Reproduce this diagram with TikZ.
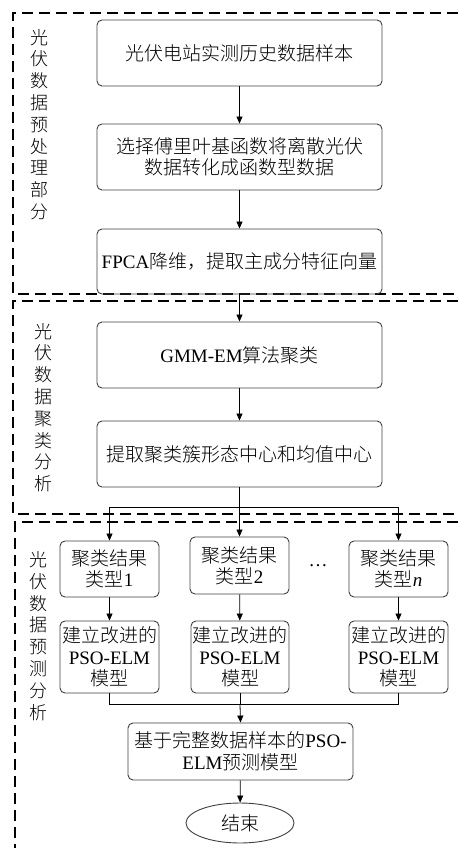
\documentclass[tikz,border=0pt]{standalone}
\usepackage{fontspec}
\setmainfont{Liberation Serif}
\newfontfamily\cjk[UprightFont={* Light}]{Noto Sans CJK SC}
\newcommand{\zh}[1]{{\cjk #1}}
\usetikzlibrary{arrows.meta,shapes.geometric}
\begin{document}
\begin{tikzpicture}[x=1pt,y=-1pt,
  box/.style={draw=black!75, line width=0.9pt, rounded corners=5pt, align=center,
    inner sep=0pt, font=\fontsize{19}{20.5}\selectfont},
  grp/.style={line width=1.3pt, dash pattern=on 11pt off 6pt},
  arr/.style={-{Triangle[length=7pt,width=6pt]}, line width=0.8pt},
  conn/.style={line width=0.8pt},
  lbl/.style={align=center, inner sep=0pt, font=\fontsize{18}{21.8}\selectfont\cjk}
]
\useasboundingbox (0,0) rectangle (458,848);

% group frames
\draw[grp] (458,13) -- (13,13) -- (13,294) -- (458,294);
\draw[grp] (458,301) -- (13,301) -- (13,514) -- (458,514);
\draw[grp] (458,522) -- (15,522) -- (15,848);

% group labels
\node[lbl] (L1) at (39,124.5) {光\\伏\\数\\据\\预\\处\\理\\部\\分};
\node[lbl] (L2) at (43,407.5) {光\\伏\\数\\据\\聚\\类\\分\\析};
\node[lbl] (L3) at (38,636) {光\\伏\\数\\据\\预\\测\\分\\析};

% main boxes
\node[box, minimum width=285pt, minimum height=66pt] (A) at (239.5,53) {\zh{光伏电站实测历史数据样本}};
\node[box, minimum width=285pt, minimum height=66pt] (B) at (239.5,157) {\zh{选择傅里叶基函数将离散光伏}\\\zh{数据转化成函数型数据}};
\node[box, minimum width=285pt, minimum height=65pt] (C) at (239.5,261.5) {FPCA\zh{降维，提取主成分特征向量}};
\node[box, minimum width=285pt, minimum height=66pt] (D) at (239.5,355) {GMM-EM\zh{算法聚类}};
\node[box, minimum width=285pt, minimum height=66pt] (E) at (239.5,454) {\zh{提取聚类簇形态中心和均值中心}};

% cluster type boxes
\node[box, font=\fontsize{19}{21}\selectfont, minimum width=99pt, minimum height=56pt] (T1) at (109.5,569) {\zh{聚类结果}\\\zh{类型}1};
\node[box, font=\fontsize{19}{21}\selectfont, minimum width=99pt, minimum height=57pt] (T2) at (239.5,565.5) {\zh{聚类结果}\\\zh{类型}2};
\node[box, font=\fontsize{19}{21}\selectfont, minimum width=99pt, minimum height=56pt] (Tn) at (398.5,569) {\zh{聚类结果}\\\zh{类型}\textit{n}};
\node[font=\fontsize{19}{21}\selectfont, inner sep=0pt] (dots) at (318,566) {\textellipsis};

% model boxes
\node[box, font=\fontsize{19}{21.5}\selectfont, minimum width=99pt, minimum height=72pt] (M1) at (109.5,657) {\zh{建立改进的}\\PSO-ELM\\\zh{模型}};
\node[box, font=\fontsize{19}{21.5}\selectfont, minimum width=98pt, minimum height=72pt] (M2) at (240,657) {\zh{建立改进的}\\PSO-ELM\\\zh{模型}};
\node[box, font=\fontsize{19}{21.5}\selectfont, minimum width=99pt, minimum height=72pt] (Mn) at (398.5,657) {\zh{建立改进的}\\PSO-ELM\\\zh{模型}};

% final model
\node[box, font=\fontsize{19}{22}\selectfont, minimum width=225pt, minimum height=57pt] (F) at (240.5,751.5) {\zh{基于完整数据样本的}PSO-\\ELM\zh{预测模型}};
\node[draw=black!75, line width=0.9pt, ellipse, inner sep=0pt, minimum width=108pt, minimum height=40pt, font=\fontsize{19}{21}\selectfont] (End) at (240,823) {\zh{结束}};

% connectors
\draw[arr] (A) -- (B);
\draw[arr] (B) -- (C);
\draw[arr] (C) -- (D);
\draw[arr] (D) -- (E);

\coordinate (s) at (239.5,507);
\draw[conn] (E.south) -- (s);
\draw[conn] (s -| T1) -- (s -| Tn);
\draw[arr] (s -| T1) -- (T1.north);
\draw[arr] (s) -- (T2.north);
\draw[arr] (s -| Tn) -- (Tn.north);

\draw[arr] (T1) -- (M1);
\draw[arr] (T2) -- (M2);
\draw[arr] (Tn) -- (Mn);

\coordinate (j) at (240,704);
\draw[conn] (M1.south) -- (M1.south |- j) -- (Mn.south |- j) -- (Mn.south);
\draw[conn] (M2.south) -- (j);
\draw[arr] (j) -- (F.north);
\draw[arr] (F) -- (End);
\end{tikzpicture}
\end{document}
